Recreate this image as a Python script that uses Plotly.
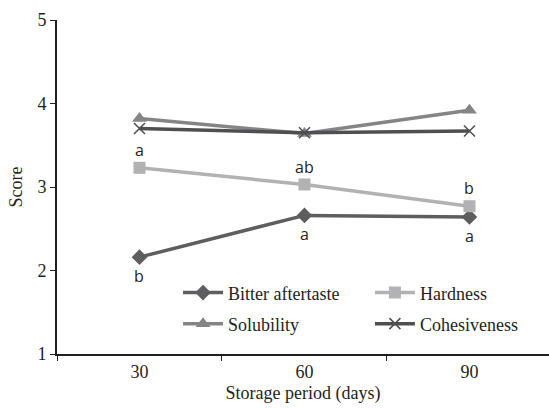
import plotly.graph_objects as go

periods = ["30", "60", "90"]
bitter = [2.16, 2.66, 2.64]
hardness = [3.23, 3.03, 2.77]
solubility = [3.82, 3.64, 3.92]
cohesiveness = [3.70, 3.65, 3.67]
hardness_letters = ["a", "ab", "b"]
bitter_letters = ["b", "a", "a"]

serif = "Liberation Serif"
sans = "Open Sans"
axis_col = "#231f20"
fs = 18

fig = go.Figure()
fig.add_trace(go.Scatter(x=periods, y=bitter, name="Bitter aftertaste", mode="lines+markers",
                         line=dict(color="#5e5e60", width=3.5),
                         marker=dict(symbol="diamond", size=12, color="#5e5e60"), legend="legend"))
fig.add_trace(go.Scatter(x=periods, y=hardness, name="Hardness", mode="lines+markers",
                         line=dict(color="#b2b2b4", width=3.5),
                         marker=dict(symbol="square", size=12, color="#b2b2b4"), legend="legend2"))
fig.add_trace(go.Scatter(x=periods, y=solubility, name="Solubility", mode="lines+markers",
                         line=dict(color="#858587", width=3.5),
                         marker=dict(symbol="triangle-up", size=13, color="#858587"), legend="legend3"))
fig.add_trace(go.Scatter(x=periods, y=cohesiveness, name="Cohesiveness", mode="lines+markers",
                         line=dict(color="#4f4f51", width=3.5),
                         marker=dict(symbol="x-thin", size=11, line=dict(color="#4f4f51", width=1.5)),
                         legend="legend4"))

for i, (yv, t) in enumerate(zip(hardness, hardness_letters)):
    fig.add_annotation(x=i, y=yv, text=t, showarrow=False, yshift=18,
                       font=dict(family=sans, size=16, color="#231f20"))
for i, (yv, t) in enumerate(zip(bitter, bitter_letters)):
    fig.add_annotation(x=i, y=yv, text=t, showarrow=False, yshift=-19,
                       font=dict(family=sans, size=16, color="#231f20"))

legend_common = dict(orientation="v", xanchor="left", yanchor="middle", bgcolor="rgba(0,0,0,0)",
                     font=dict(family=serif, size=fs, color=axis_col), itemwidth=40)

fig.update_layout(
    template="none",
    width=549, height=408,
    margin=dict(l=57, r=0, t=20, b=54),
    paper_bgcolor="white", plot_bgcolor="white",
    showlegend=True,
    legend=dict(x=0.246, y=0.183, **legend_common),
    legend2=dict(x=0.636, y=0.183, **legend_common),
    legend3=dict(x=0.246, y=0.090, **legend_common),
    legend4=dict(x=0.636, y=0.090, **legend_common),
    xaxis=dict(type="category", categoryorder="array", categoryarray=periods,
               range=[-0.5, 2.482], tickson="boundaries", ticks="outside", ticklen=5,
               tickwidth=1, tickcolor=axis_col, showline=True, linecolor=axis_col, linewidth=2,
               showgrid=False, zeroline=False,
               tickfont=dict(family=serif, size=fs, color=axis_col),
               title=dict(text="Storage period (days)", standoff=6,
                          font=dict(family=serif, size=fs, color=axis_col))),
    yaxis=dict(range=[1, 5], tickvals=[1, 2, 3, 4, 5], ticks="outside", ticklen=5,
               tickwidth=1, tickcolor=axis_col, showline=True, linecolor=axis_col, linewidth=2,
               showgrid=False, zeroline=False,
               tickfont=dict(family=serif, size=fs, color=axis_col),
               title=dict(text="Score", standoff=10,
                          font=dict(family=serif, size=fs, color=axis_col))),
)

fig.write_html("out.html")
